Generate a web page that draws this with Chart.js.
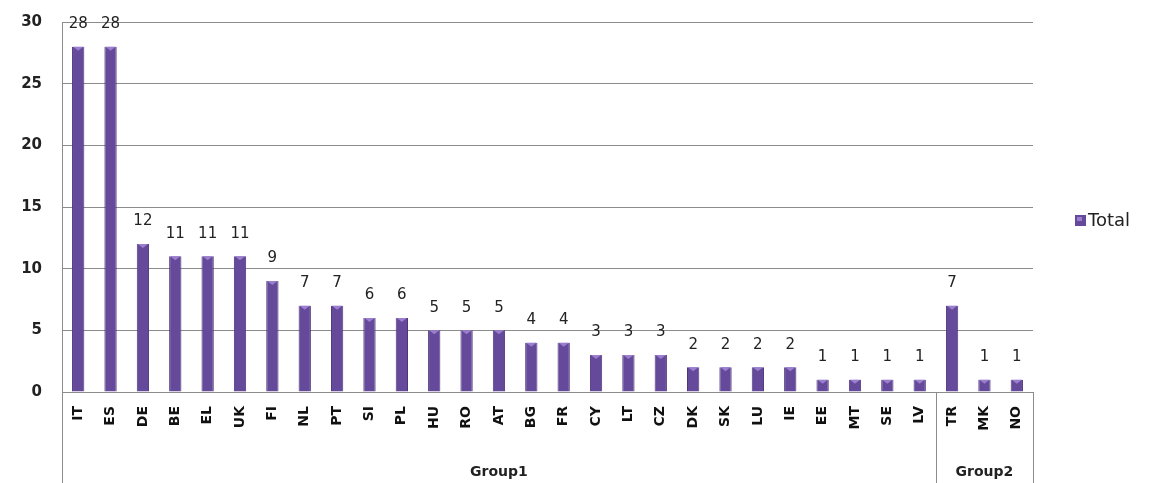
<!DOCTYPE html>
<html>
<head>
<meta charset="utf-8">
<script src="https://cdn.jsdelivr.net/npm/chart.js@4"></script>
<style>
  html, body { margin: 0; padding: 0; background: #fff; }
  #wrap { width: 1149px; height: 483px; }
</style>
</head>
<body>
<div id="wrap"><canvas id="grafico"></canvas></div>
<script>
const paises = ["IT","ES","DE","BE","EL","UK","FI","NL","PT","SI","PL","HU","RO","AT","BG","FR","CY","LT","CZ","DK","SK","LU","IE","EE","MT","SE","LV","TR","MK","NO"];
const totais = [28,28,12,11,11,11,9,7,7,6,6,5,5,5,4,4,3,3,3,2,2,2,2,1,1,1,1,7,1,1];
const grupos = ["Group1","Group2"];
const tamanhoGrupos = [27, 3];
const ticksY = [0,5,10,15,20,25,30];
const nomeSerie = "Total";

const corBarra = "#65499a";
const fonte = "'DejaVu Sans', Verdana, sans-serif";

// labels, grupos e legenda
const extras = {
  id: "extras",
  afterDatasetsDraw(chart) {
    const ctx = chart.ctx;
    const x = chart.scales.x;
    const area = chart.chartArea;
    const meta = chart.getDatasetMeta(0);

    ctx.save();
    // topo claro das barras
    ctx.fillStyle = "#9b7fce";
    meta.data.forEach(barra => {
      const w = barra.width;
      ctx.beginPath();
      ctx.moveTo(barra.x - w / 2 + 1, barra.y);
      ctx.lineTo(barra.x + w / 2 - 1, barra.y);
      ctx.lineTo(barra.x, barra.y + 4);
      ctx.closePath();
      ctx.fill();
    });

    ctx.fillStyle = "#222";
    ctx.font = "15px " + fonte;
    ctx.textAlign = "center";
    ctx.textBaseline = "bottom";
    meta.data.forEach((barra, i) => {
      ctx.fillText(String(totais[i]), barra.x, barra.y - 15);
    });

    // linhas dos grupos
    ctx.strokeStyle = "#8c8c8c";
    ctx.lineWidth = 1;
    const meio = (x.getPixelForValue(1) - x.getPixelForValue(0)) / 2;
    let inicio = 0;
    const bordas = [x.getPixelForValue(0) - meio];
    grupos.forEach((g, k) => {
      const fim = inicio + tamanhoGrupos[k] - 1;
      bordas.push(x.getPixelForValue(fim) + meio);
      const cx = (x.getPixelForValue(inicio) + x.getPixelForValue(fim)) / 2;
      ctx.font = "bold 14px " + fonte;
      ctx.fillStyle = "#222";
      ctx.textBaseline = "middle";
      ctx.fillText(g, cx, area.bottom + 80);
      inicio = fim + 1;
    });
    bordas.forEach(b => {
      const bx = Math.round(b) + 0.5;
      ctx.beginPath();
      ctx.moveTo(bx, area.bottom);
      ctx.lineTo(bx, chart.height);
      ctx.stroke();
    });

    // legenda
    const lx = area.right + 42;
    const ly = 220;
    ctx.fillStyle = corBarra;
    ctx.fillRect(lx, ly - 5, 11, 11);
    ctx.fillStyle = "#9b7fce";
    ctx.fillRect(lx + 2, ly - 3, 5, 4);
    ctx.fillStyle = "#222";
    ctx.font = "18px " + fonte;
    ctx.textAlign = "left";
    ctx.textBaseline = "middle";
    ctx.fillText(nomeSerie, lx + 13, ly + 1);
    ctx.restore();
  }
};

const ctx = document.getElementById("grafico").getContext("2d");
const grafico = new Chart(ctx, {
  type: "bar",
  data: {
    labels: paises,
    datasets: [{
      label: nomeSerie,
      data: totais,
      backgroundColor: corBarra,
      borderColor: "#4d3679",
      borderWidth: { left: 1, right: 1, top: 0, bottom: 0 },
      categoryPercentage: 1,
      barPercentage: 0.38
    }]
  },
  options: {
    responsive: true,
    maintainAspectRatio: false,
    animation: false,
    layout: { padding: { top: 22, right: 116, left: 0, bottom: 0 } },
    plugins: {
      legend: { display: false },
      tooltip: { enabled: false }
    },
    scales: {
      x: {
        grid: { display: false, drawTicks: false },
        border: { color: "#8c8c8c" },
        ticks: {
          color: "#111",
          font: { family: fonte, size: 14, weight: "bold" },
          minRotation: 90,
          maxRotation: 90,
          autoSkip: false,
          padding: 14
        },
        afterFit: s => { s.height = 91; s.paddingLeft = 0; s.paddingRight = 0; }
      },
      y: {
        min: 0,
        max: 30,
        afterBuildTicks: s => { s.ticks = ticksY.map(v => ({ value: v })); },
        grid: { color: "#8c8c8c", drawTicks: false },
        border: { color: "#8c8c8c" },
        ticks: {
          color: "#222",
          font: { family: fonte, size: 15, weight: "bold" },
          padding: 20
        },
        afterFit: s => { s.width = 62; s.paddingTop = 0; s.paddingBottom = 0; }
      }
    }
  },
  plugins: [extras]
});
</script>
</body>
</html>
